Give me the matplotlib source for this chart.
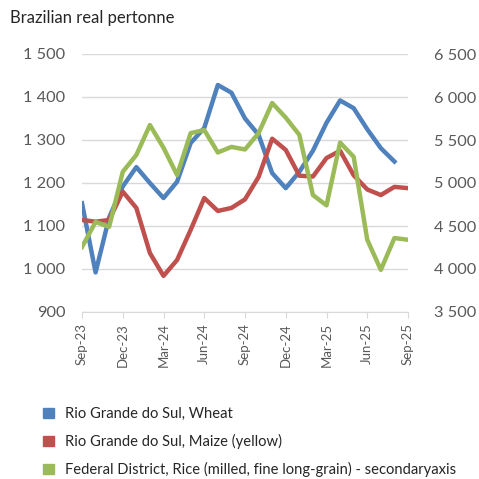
import matplotlib.pyplot as plt
from matplotlib.patches import Patch
import numpy as np

plt.rcParams['font.family'] = ['Lato', 'DejaVu Sans']

# mois, de Sep-23 a Sep-25
meses = ['Sep-23', 'Oct-23', 'Nov-23', 'Dec-23', 'Jan-24', 'Feb-24', 'Mar-24',
         'Apr-24', 'May-24', 'Jun-24', 'Jul-24', 'Aug-24', 'Sep-24', 'Oct-24',
         'Nov-24', 'Dec-24', 'Jan-25', 'Feb-25', 'Mar-25', 'Apr-25', 'May-25',
         'Jun-25', 'Jul-25', 'Aug-25', 'Sep-25']

# valores (eixo esquerdo)
trigo = [1153, 992, 1120, 1192, 1237, 1200, 1165, 1203, 1293, 1328, 1428, 1410,
         1350, 1312, 1223, 1188, 1226, 1275, 1340, 1392, 1374, 1325, 1281, 1250,
         np.nan]
milho = [1114, 1110, 1114, 1180, 1142, 1037, 984, 1021, 1091, 1165, 1135, 1142,
         1162, 1214, 1303, 1277, 1217, 1215, 1258, 1275, 1218, 1185, 1172, 1191,
         1188]
# arroz no eixo secundario
arroz = [4256, 4547, 4490, 5130, 5326, 5674, 5410, 5093, 5580, 5616, 5355, 5420,
         5390, 5580, 5930, 5760, 5560, 4860, 4740, 5470, 5305, 4340, 3990, 4360,
         4340]

nomes = ['Rio Grande do Sul, Wheat',
         'Rio Grande do Sul, Maize (yellow)',
         'Federal District, Rice (milled, fine long-grain) - secondaryaxis']
cores = ['#4F81BD', '#C0504D', '#9BBB59']

cinza = '#595959'
x = np.arange(len(meses))

fig = plt.figure(figsize=(4.79, 4.79), dpi=100)
ax = fig.add_axes([82 / 479, 1 - 312 / 479, 326 / 479, 258 / 479])

ax.plot(x, trigo, color=cores[0], lw=3.2, solid_joinstyle='round')
ax.plot(x, milho, color=cores[1], lw=3.2, solid_joinstyle='round')
ax.set_ylim(900, 1500)
ax.set_yticks(range(900, 1501, 100))
ax.set_yticklabels(['{:,}'.format(v).replace(',', ' ') for v in range(900, 1501, 100)])
ax.set_xlim(0, 24)
ax.set_xticks(x[::3])
ax.set_xticklabels(meses[::3], rotation=90)
ax.grid(axis='y', color='#D9D9D9', lw=1)
ax.set_axisbelow(True)
for lado in ['top', 'left', 'right']:
    ax.spines[lado].set_visible(False)
ax.spines['bottom'].set_color('#D9D9D9')
ax.tick_params(axis='y', length=0, pad=12, labelsize=11.8, labelcolor=cinza)
ax.tick_params(axis='x', length=4, color='#D9D9D9', pad=4, labelsize=9.5,
               labelcolor=cinza)

ax2 = ax.twinx()
ax2.plot(x, arroz, color=cores[2], lw=3.2, solid_joinstyle='round')
ax2.set_ylim(3500, 6500)
ax2.set_yticks(range(3500, 6501, 500))
ax2.set_yticklabels(['{:,}'.format(v).replace(',', ' ') for v in range(3500, 6501, 500)])
for lado in ['top', 'left', 'right', 'bottom']:
    ax2.spines[lado].set_visible(False)
ax2.tick_params(axis='y', length=0, pad=19, labelsize=11.8, labelcolor=cinza)

fig.text(10 / 479, 1 - 18 / 479, 'Brazilian real pertonne', fontsize=12,
         color='#262626', va='center', ha='left')

handles = [Patch(facecolor=c, edgecolor=c) for c in cores]
fig.legend(handles, nomes, loc='upper left', bbox_to_anchor=(30 / 479, 1 - 394 / 479),
           frameon=False, fontsize=10.6, handlelength=0.7, handleheight=0.7,
           labelspacing=0.88, handletextpad=0.8, labelcolor='#262626')

fig.savefig('out.png', dpi=100)
